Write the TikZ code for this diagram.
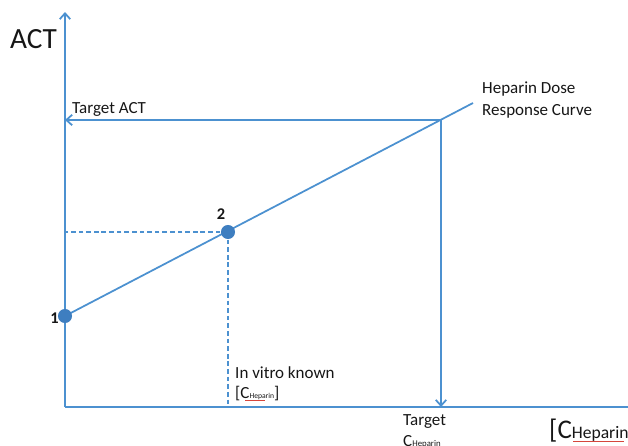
\documentclass[tikz,border=0pt]{standalone}
\usepackage{fontspec}
\setmainfont{Carlito}
\usetikzlibrary{arrows.meta}
\definecolor{lineblue}{RGB}{76,145,208}
\definecolor{dotblue}{RGB}{62,126,192}
\definecolor{inkgray}{RGB}{22,22,22}
\definecolor{spellred}{RGB}{214,70,60}

\begin{document}
\begin{tikzpicture}[x=0.03cm,y=-0.03cm,
  axis/.style={draw=lineblue, line width=1.5pt},
  guide/.style={draw=lineblue, line width=1.1pt, dash pattern=on 4pt off 2.5pt},
  tip/.style={-{Straight Barb[length=5pt,width=9pt]}},
  dot/.style={circle, fill=dotblue, inner sep=0pt, minimum size=12pt},
  lbl/.style={text=inkgray, inner sep=0pt, font=\fontsize{14.5}{18}\selectfont},
  numlbl/.style={lbl, font=\fontsize{14}{16}\selectfont\bfseries},
]
\useasboundingbox (0,0) rectangle (628,445);

% axes
\coordinate (origin) at (65,407);
\coordinate (ytop) at (65,12);
\coordinate (xend) at (628,407);
\draw[axis,tip] (origin) -- (ytop);
\draw[axis] (origin) -- (xend);

% dose response line
\coordinate (c1) at (65,316);
\coordinate (c2) at (228,232);
\coordinate (target) at (441,120);
\coordinate (curveend) at (473,103);
\draw[axis] (c1) -- (curveend);

% target arrows
\coordinate (actaxis) at (65,120);
\coordinate (caxis) at (441,407);
\draw[axis,tip] (target) -- (actaxis);
\draw[axis,tip] (target) -- (caxis);

% in vitro guides
\coordinate (c2y) at (65,232);
\coordinate (c2x) at (228,407);
\draw[guide] (c2) -- (c2y);
\draw[guide] (c2) -- (c2x);

\node[dot] (p1) at (c1) {};
\node[dot] (p2) at (c2) {};

% labels
\node[lbl, font=\fontsize{25}{28}\selectfont, anchor=base west] (actlbl) at (10,48) {ACT};
\node[lbl, anchor=base west] (targetact) at (72,113) {Target ACT};
\node[lbl, anchor=north west, align=left] (curvelbl) at (482,82) {Heparin Dose\\Response Curve};
\node[numlbl, anchor=base east] (lbl1) at (59,323) {1};
\node[numlbl, anchor=base] (lbl2) at (221,219) {2};
\node[lbl, anchor=base west] (invitro) at (235,378) {In vitro known};
\node[lbl, anchor=base west] (invitroc) at (235,398)
  {[C{\fontsize{6.5}{7}\selectfont Heparin}]};
\draw[spellred, line width=0.6pt] (245,400) -- (265,400);
\node[lbl, anchor=base west] (targetc) at (403,425) {Target};
\node[lbl, anchor=base west] (targetc2) at (403,446) {C{\fontsize{7.5}{8}\selectfont Heparin}};
\node[lbl, anchor=base west, font=\fontsize{23}{26}\selectfont] (xlbl) at (549,438)
  {[C{\fontsize{15}{17}\selectfont Heparin}};
\draw[spellred, line width=0.8pt] (573,441) -- (624,441);
\end{tikzpicture}
\end{document}
